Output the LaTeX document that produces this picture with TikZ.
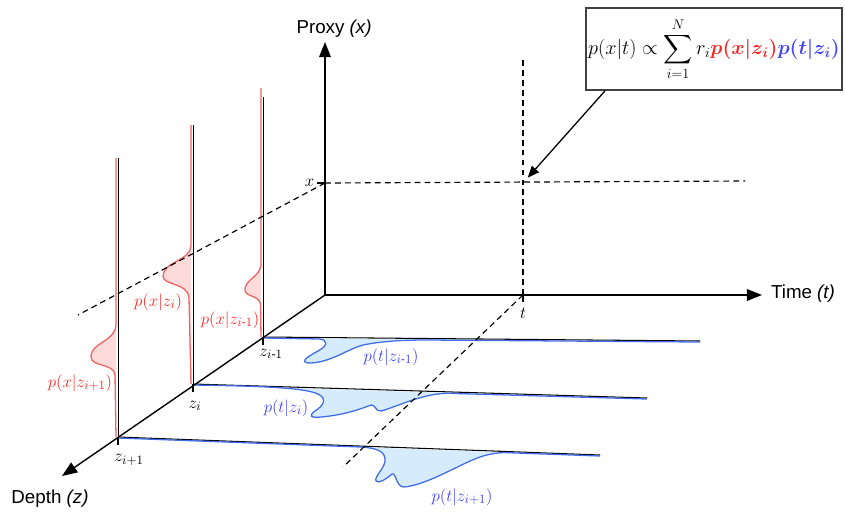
\documentclass[tikz,border=0pt]{standalone}
\usepackage{amsmath}
\usepackage[no-math]{fontspec}
\setmainfont{Liberation Sans}
\usetikzlibrary{arrows.meta, positioning}

\definecolor{pxred}{RGB}{240,100,100}
\definecolor{pxfill}{RGB}{255,218,218}
\definecolor{ptblue}{RGB}{64,108,232}
\definecolor{ptfill}{RGB}{214,236,252}
\definecolor{fred}{RGB}{250,40,40}
\definecolor{fblue}{RGB}{70,70,250}

\begin{document}
\begin{tikzpicture}[
    x=0.03cm, y=-0.03cm,
    % Estilos
    axis/.style={line width=1.2pt, -{Triangle[length=13pt,width=10pt]}},
    pointer/.style={line width=1.1pt, -{Triangle[length=10pt,width=8pt]}},
    guide/.style={dashed, line width=1pt, dash pattern=on 5pt off 3.5pt},
    zline/.style={line width=0.9pt, black},
    vline/.style={line width=0.7pt, black},
    tick/.style={line width=0.9pt},
    xpdf/.style={draw=pxred, fill=pxfill, line width=1.1pt},
    tpdf/.style={draw=ptblue, fill=ptfill, line width=1.1pt},
    axislabel/.style={font=\fontsize{16}{19}\selectfont, inner sep=0pt},
    zlabel/.style={font=\fontsize{15}{17}\selectfont, inner sep=0pt},
    pxlabel/.style={font=\fontsize{15}{17}\selectfont, text=red!85, inner sep=0pt},
    ptlabel/.style={font=\fontsize{15}{17}\selectfont, text=blue!75, inner sep=0pt},
    formulabox/.style={draw=black!75, line width=1.5pt, fill=white,
        minimum width=7.56cm, minimum height=2.46cm, inner sep=2pt,
        font=\fontsize{17}{20}\selectfont}
]
    \useasboundingbox (0,0) rectangle (845,520);

    % --- PONTOS ---
    \coordinate (O) at (325,295);
    \coordinate (xtop) at (325,42);
    \coordinate (tend) at (762,295);
    \coordinate (zend) at (62,476);
    \coordinate (zm) at (263,337);   % z_{i-1}
    \coordinate (zc) at (193,384);   % z_i
    \coordinate (zp) at (118,437);   % z_{i+1}
    \coordinate (xtick) at (325,183);
    \coordinate (ttick) at (523,295);
    \coordinate (cross) at (523,183);

    % --- DENSIDADES p(t|z) ---
    \draw[zline] (zm) -- ++(437,4);
    \draw[zline] (zc) -- ++(454,14);
    \draw[zline] (zp) -- ++(482,18);

    \begin{scope}[shift={(zm)}]
        \draw[tpdf] (0,1) -- (57,2) .. controls (64,3) and (66,8) .. (55,14)
            .. controls (42,21) and (36,26) .. (48,26)
            .. controls (68,25) and (85,12) .. (100,8)
            .. controls (120,4) and (140,3) .. (165,3) -- (437,5);
    \end{scope}
    \begin{scope}[shift={(zc)}]
        \draw[tpdf] (0,1) .. controls (60,2) and (110,3) .. (125,10)
            .. controls (135,15) and (130,22) .. (122,27)
            .. controls (115,32) and (118,34) .. (128,33)
            .. controls (150,31) and (165,26) .. (178,21)
            .. controls (182,20) and (183,28) .. (188,27)
            .. controls (200,24) and (225,12) .. (245,10)
            .. controls (252,9) and (256,9) .. (262,9.5) -- (454,15);
    \end{scope}
    \begin{scope}[shift={(zp)}]
        \draw[tpdf] (0,1) -- (243,10) .. controls (258,11) and (268,14) .. (267,24)
            .. controls (266,32) and (256,40) .. (258,44)
            .. controls (261,47) and (268,42) .. (274,37)
            .. controls (278,35) and (278,50) .. (286,50)
            .. controls (310,48) and (345,25) .. (365,19)
            .. controls (372,17) and (378,16) .. (385,15.5) -- (482,19);
    \end{scope}

    % --- DENSIDADES p(x|z) ---
    \begin{scope}[shift={(zm)}]
        \draw[xpdf] (-2,-249) -- (-2,-72) .. controls (-3,-60) and (-18,-58) .. (-18,-47)
            .. controls (-18,-40) and (-4,-42) .. (-2.5,-33) -- (-2,0);
        \draw[vline] (0,0) -- (0,-240);
    \end{scope}
    \begin{scope}[shift={(zc)}]
        \draw[xpdf] (-2,-259) -- (-2,-138) .. controls (-2,-124) and (-30,-122) .. (-30,-108)
            .. controls (-30,-98) and (-5,-102) .. (-4,-86) -- (-2,0);
        \draw[vline] (0,0) -- (0,-259);
    \end{scope}
    \begin{scope}[shift={(zp)}]
        \draw[xpdf] (-2,-279) -- (-2,-112) .. controls (-3,-95) and (-27,-95) .. (-27,-80)
            .. controls (-27,-70) and (-4,-74) .. (-3,-62) -- (-2,0);
        \draw[vline] (0,0) -- (0,-279);
    \end{scope}

    % --- LINHAS TRACEJADAS ---
    \draw[guide] (xtick) -- (745,181);
    \draw[guide] (xtick) -- (78,315);
    \draw[guide] (523,60) -- (523,300);
    \draw[guide] (ttick) -- (343,467);

    % --- EIXOS ---
    \draw[axis] (O) -- (xtop);
    \draw[axis] (O) -- (tend);
    \draw[axis] (O) -- (zend);

    % Marcas
    \draw[tick] (xtick) -- ++(-8,0);
    \draw[tick] (ttick) -- ++(0,7);
    \draw[tick] (zm) -- ++(0,8);
    \draw[tick] (zc) -- ++(0,8);
    \draw[tick] (zp) -- ++(0,8);

    % --- RÓTULOS ---
    \node[axislabel] (proxylbl) at (334,29) {Proxy \textit{(x)}};
    \node[axislabel] (timelbl) at (803,294) {Time \textit{(t)}};
    \node[axislabel] (depthlbl) at (50,499) {Depth \textit{(z)}};

    \node[zlabel, left=9pt of xtick] (xlbl) {$x$};
    \node[zlabel] (tlbl) at (523,313) {$t$};
    \node[zlabel] (zmlbl) at (271,354) {$z_{i\text{-}1}$};
    \node[zlabel] (zclbl) at (195,406) {$z_{i}$};
    \node[zlabel] (zplbl) at (129,460) {$z_{i+1}$};

    \node[pxlabel] (pxm) at (230,320) {$p(x|z_{i\text{-}1})$};
    \node[pxlabel] (pxc) at (158,302) {$p(x|z_{i})$};
    \node[pxlabel] (pxp) at (80,383) {$p(x|z_{i+1})$};

    \node[ptlabel] (ptm) at (391,357) {$p(t|z_{i\text{-}1})$};
    \node[ptlabel] (ptc) at (286,408) {$p(t|z_{i})$};
    \node[ptlabel] (ptp) at (462,497) {$p(t|z_{i+1})$};

    % --- FÓRMULA ---
    \node[formulabox] (formula) at (714,49)
        {$\displaystyle p(x|t) \propto \sum_{i=1}^{N} r_i
          \textcolor{fred}{\boldsymbol{p(x|z_i)}}\textcolor{fblue}{\boldsymbol{p(t|z_i)}}$};
    \draw[pointer, shorten >=6pt] ([xshift=0.6cm]formula.south west) -- (cross);

\end{tikzpicture}
\end{document}
